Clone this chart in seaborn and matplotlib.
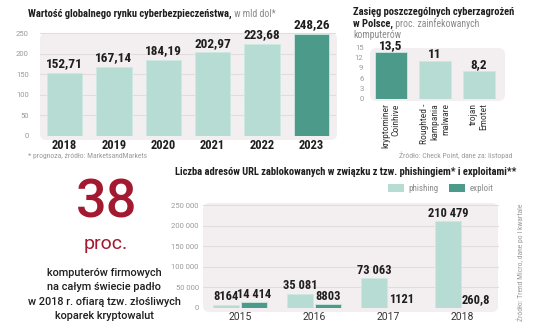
import matplotlib
matplotlib.use("Agg")
import matplotlib.pyplot as plt
from matplotlib.patches import FancyBboxPatch, Patch
from matplotlib import font_manager
import pandas as pd
import seaborn as sns

# ---- data -------------------------------------------------------------
market_years = ["2018", "2019", "2020", "2021", "2022", "2023"]
market_values = [152.71, 167.14, 184.19, 202.97, 223.68, 248.26]
market_labels = ["152,71", "167,14", "184,19", "202,97", "223,68", "248,26"]
market_ticks = [0, 50, 100, 150, 200, 250]

threat_names = ["kryptominer\nCoinhive", "Roughted -\nkampania\nmalware", "trojan\nEmotet"]
threat_values = [13.5, 11, 8.2]
threat_labels = ["13,5", "11", "8,2"]
threat_ticks = [0, 3, 6, 9, 12, 15]

url_years = ["2015", "2016", "2017", "2018"]
phishing_values = [8164, 35081, 73063, 210479]
exploit_values = [14414, 8803, 1121, 260.8]
phishing_labels = ["8164", "35 081", "73 063", "210 479"]
exploit_labels = ["14 414", "8803", "1121", "260,8"]
url_ticks = [0, 50000, 100000, 150000, 200000, 250000]
url_tick_labels = ["0", "50 000", "100 000", "150 000", "200 000", "250 000"]

headline_lines = ["komputerów firmowych", "na całym świecie padło",
                  "w 2018 r. ofiarą tzw. złośliwych", "koparek kryptowalut"]

# ---- style ------------------------------------------------------------
sns.set_style("white")
installed = {f.name for f in font_manager.fontManager.ttflist}
NARROW = next((n for n in ["Liberation Sans Narrow", "Roboto Condensed", "DejaVu Sans"] if n in installed), "DejaVu Sans")
BODY = "Roboto" if "Roboto" in installed else "DejaVu Sans"
plt.rcParams["font.family"] = [BODY, "DejaVu Sans"]

LIGHT = "#b7dcd4"
DARK = "#4b9a8a"
PANEL = "#f3eff0"
GRID = "#e2dcdd"
TICK = "#9a9a9a"
INK = "#1e1e1e"
RED = "#a3192f"

W, H = 536, 332
fig = plt.figure(figsize=(W / 100, H / 100), dpi=100)
fig.patch.set_facecolor("white")


def axes_px(x0, x1, ytop, ybot):
    return fig.add_axes([x0 / W, 1 - ybot / H, (x1 - x0) / W, (ybot - ytop) / H])


def panel(x0, y0, x1, y1):
    p = FancyBboxPatch((x0 / W, 1 - y1 / H), (x1 - x0) / W, (y1 - y0) / H,
                       boxstyle="round,pad=0,rounding_size=0.012",
                       mutation_aspect=W / H, transform=fig.transFigure,
                       fc=PANEL, ec="none", zorder=-1)
    fig.patches.append(p)


def clean(ax):
    ax.set_facecolor("none")
    for s in ax.spines.values():
        s.set_visible(False)
    ax.set_xlabel("")
    ax.set_ylabel("")
    ax.yaxis.grid(True, color=GRID, lw=0.8)
    ax.xaxis.grid(False)
    ax.set_axisbelow(True)


def title(x, y, bold, light=None, size=7.6):
    t = fig.text(x / W, 1 - y / H, bold, fontsize=size, fontweight="bold",
                 family=[NARROW, "DejaVu Sans"], color=INK, va="center", ha="left")
    if light:
        fig.axes[0].annotate(light, xy=(1, 0.5), xycoords=t, va="center", ha="left",
                             fontsize=size - 0.6, color="#8a8a8a",
                             family=[NARROW, "DejaVu Sans"], annotation_clip=False)
    return t


# ---- chart 1: global cybersecurity market -----------------------------
panel(40, 33, 337, 140)
ax1 = axes_px(40, 336, 32.2, 136)
df1 = pd.DataFrame({"rok": market_years, "wartosc": market_values})
sns.barplot(data=df1, x="rok", y="wartosc", hue="rok",
            palette=[LIGHT] * 5 + [DARK], legend=False, width=0.71,
            saturation=1, ax=ax1, edgecolor="#cfe8e2", linewidth=0.6)
clean(ax1)
ax1.set_ylim(0, 252)
ax1.set_yticks(market_ticks)
ax1.tick_params(axis="y", length=0, labelsize=5.5, labelcolor=TICK, pad=8)
ax1.tick_params(axis="x", length=0, labelsize=9, labelcolor=INK, pad=2)
for lab in ax1.get_xticklabels():
    lab.set_fontweight("bold")
    lab.set_family([NARROW, "DejaVu Sans"])
for bar, lbl in zip(ax1.patches, market_labels):
    ax1.annotate(lbl, (bar.get_x() + bar.get_width() / 2, bar.get_height()),
                 xytext=(0, 2), textcoords="offset points", ha="center", va="bottom",
                 fontsize=9.5, fontweight="bold", family=[NARROW, "DejaVu Sans"], color=INK)

title(28, 14, "Wartość globalnego rynku cyberbezpieczeństwa,", " w mld dol*")
fig.text(28 / W, 1 - 156 / H, "* prognoza, źródło: MarketsandMarkets", fontsize=5.5,
         color=TICK, family=[NARROW, "DejaVu Sans"], va="center")

# ---- chart 2: threats in Poland ---------------------------------------
panel(370, 48, 505, 101)
ax2 = axes_px(369, 501, 46, 99)
df2 = pd.DataFrame({"zagrozenie": threat_names, "proc": threat_values})
sns.barplot(data=df2, x="zagrozenie", y="proc", hue="zagrozenie",
            palette=[DARK, LIGHT, LIGHT], legend=False, width=0.72,
            saturation=1, ax=ax2, edgecolor="#cfe8e2", linewidth=0.6)
clean(ax2)
ax2.yaxis.grid(False)
ax2.set_ylim(0, 15.3)
ax2.set_yticks(threat_ticks)
ax2.tick_params(axis="y", length=0, labelsize=5.5, labelcolor=TICK, pad=4)
ax2.tick_params(axis="x", length=0, pad=3)
ax2.set_xticks(range(len(threat_names)))
ax2.set_xticklabels(threat_names, rotation=90, ha="center", va="top",
                    multialignment="right", fontsize=6.8, color="#333333",
                    family=[NARROW, "DejaVu Sans"])
for bar, lbl in zip(ax2.patches, threat_labels):
    ax2.annotate(lbl, (bar.get_x() + bar.get_width() / 2, bar.get_height()),
                 xytext=(0, 0), textcoords="offset points", ha="center", va="bottom",
                 fontsize=9.5, fontweight="bold", family=[NARROW, "DejaVu Sans"], color=INK)

title(353, 12, "Zasięg poszczególnych cyberzagrożeń")
title(353, 24, "w Polsce,", " proc. zainfekowanych")
fig.text(353 / W, 1 - 35.5 / H, "komputerów", fontsize=7, color="#8a8a8a",
         family=[NARROW, "DejaVu Sans"], va="center")
fig.text(512 / W, 1 - 155 / H, "Źródło: Check Point, dane za: listopad", fontsize=5.5,
         color=TICK, family=[NARROW, "DejaVu Sans"], va="center", ha="right")

# ---- chart 3: blocked URLs --------------------------------------------
panel(203, 203, 498, 312)
ax3 = axes_px(203, 499, 204.2, 308)
df3 = pd.DataFrame({
    "rok": url_years * 2,
    "typ": ["phishing"] * 4 + ["exploit"] * 4,
    "liczba": phishing_values + exploit_values,
})
sns.barplot(data=df3, x="rok", y="liczba", hue="typ", hue_order=["phishing", "exploit"],
            palette=[LIGHT, DARK], legend=False, width=0.76, gap=0.1,
            saturation=1, ax=ax3, edgecolor="#cfe8e2", linewidth=0.6)
clean(ax3)
ax3.set_ylim(0, 252000)
ax3.set_yticks(url_ticks)
ax3.set_yticklabels(url_tick_labels)
ax3.tick_params(axis="y", length=0, labelsize=5.5, labelcolor=TICK, pad=3)
ax3.tick_params(axis="x", length=0, labelsize=7.5, labelcolor="#333333", pad=3)
for container, labels in zip(ax3.containers, [phishing_labels, exploit_labels]):
    ax3.bar_label(container, labels=labels, padding=1, fontsize=9, fontweight="bold",
                  family=[NARROW, "DejaVu Sans"], color=INK)
ax3.legend(handles=[Patch(fc=LIGHT, ec="none", label="phishing"),
                    Patch(fc=DARK, ec="none", label="exploit")],
           loc="center right", bbox_to_anchor=(502 / W, 1 - 188.5 / H),
           bbox_transform=fig.transFigure, ncol=2, frameon=False,
           handlelength=1.8, handleheight=1.0, handletextpad=0.5, columnspacing=1.2,
           prop={"family": [NARROW, "DejaVu Sans"], "size": 6.5}, labelcolor="#8a8a8a")

title(175, 172, "Liczba adresów URL zablokowanych w związku z tzw. phishingiem* i exploitami**")
fig.text(520 / W, 1 - 262 / H, "Źródło: Trend Micro, dane po I kwartale", fontsize=5.5,
         color=TICK, family=[NARROW, "DejaVu Sans"], va="center", ha="center", rotation=90)

# ---- headline figure --------------------------------------------------
fig.text(107 / W, 1 - 218 / H, "38", fontsize=39, color=RED, ha="center", va="baseline",
         fontweight="medium", family=[BODY, "DejaVu Sans"])
fig.text(106 / W, 1 - 249 / H, "proc.", fontsize=14, color=RED, ha="center", va="baseline",
         family=[BODY, "DejaVu Sans"])
for i, line in enumerate(headline_lines):
    fig.text(104 / W, 1 - (273 + 14.3 * i) / H, line, fontsize=7.8, color=INK,
             ha="center", va="center", fontweight="medium", family=[BODY, "DejaVu Sans"])

fig.savefig("out.png", dpi=100)
